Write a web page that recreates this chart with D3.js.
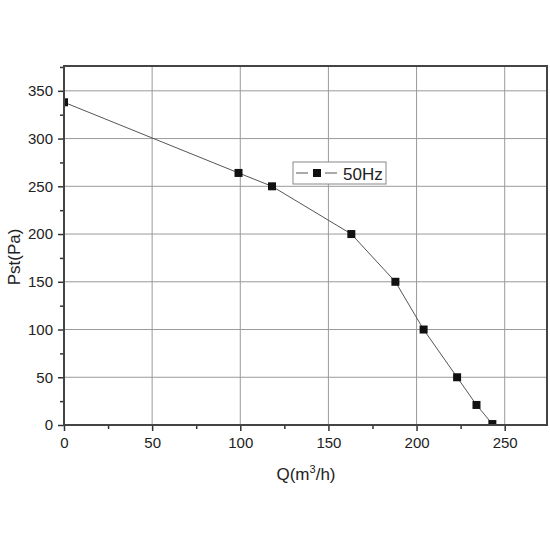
<!DOCTYPE html>
<html>
<head>
<meta charset="utf-8">
<script src="https://cdn.jsdelivr.net/npm/d3@7"></script>
<style>
  body { margin: 0; background: #fff; }
  svg { font-family: "Liberation Sans", Arial, sans-serif; }
</style>
</head>
<body>
<svg width="550" height="550"></svg>
<script>
// flow rate Q (m3/h) and static pressure Pst (Pa)
const flow = [0, 99, 118, 163, 188, 204, 223, 234, 243];
const pressure = [338, 264, 250, 200, 150, 100, 50, 21, 1];
const xTicks = [0, 50, 100, 150, 200, 250];
const yTicks = [0, 50, 100, 150, 200, 250, 300, 350];
const seriesName = '50Hz';

const svg = d3.select('svg');
const margin = { left: 64, top: 66, right: 3, bottom: 125 };
const w = 550 - margin.left - margin.right;
const h = 550 - margin.top - margin.bottom;

const x = d3.scaleLinear().domain([0, 274]).range([0, w]);
const y = d3.scaleLinear().domain([0, 376]).range([h, 0]);

svg.append('defs').append('clipPath').attr('id', 'plot')
  .append('rect').attr('width', w).attr('height', h);

const g = svg.append('g').attr('transform', `translate(${margin.left},${margin.top})`);

// grid lines
g.selectAll('.vgrid').data(xTicks.filter(d => d > 0)).enter().append('line')
  .attr('x1', d => x(d)).attr('x2', d => x(d)).attr('y1', 0).attr('y2', h)
  .attr('stroke', '#9a9a9a').attr('stroke-width', 1);
g.selectAll('.hgrid').data(yTicks.filter(d => d > 0)).enter().append('line')
  .attr('y1', d => y(d)).attr('y2', d => y(d)).attr('x1', 0).attr('x2', w)
  .attr('stroke', '#9a9a9a').attr('stroke-width', 1);

// axes - major ticks with labels, minor ticks every 25
const xAxis = g.append('g').attr('transform', `translate(0,${h})`)
  .call(d3.axisBottom(x).tickValues(xTicks).tickSize(6).tickPadding(6).tickFormat(d3.format('d')));
const xMinor = g.append('g').attr('transform', `translate(0,${h})`)
  .call(d3.axisBottom(x).tickValues([25, 75, 125, 175, 225]).tickSize(4).tickFormat(''));
const yAxis = g.append('g')
  .call(d3.axisLeft(y).tickValues(yTicks).tickSize(6).tickPadding(5).tickFormat(d3.format('d')));
const yMinor = g.append('g')
  .call(d3.axisLeft(y).tickValues([25, 75, 125, 175, 225, 275, 325, 375]).tickSize(4).tickFormat(''));

[xAxis, xMinor, yAxis, yMinor].forEach(a => {
  a.select('.domain').remove();
  a.selectAll('line').attr('stroke', '#333').attr('stroke-width', 1.5);
  a.selectAll('text').attr('fill', '#222').style('font-size', '15px');
});

// curve + markers, clipped to the frame like the original
const pts = flow.map((q, i) => [q, pressure[i]]);
const plot = g.append('g').attr('clip-path', 'url(#plot)');
plot.append('path').datum(pts)
  .attr('d', d3.line().x(d => x(d[0])).y(d => y(d[1])))
  .attr('fill', 'none').attr('stroke', '#555').attr('stroke-width', 1);
plot.selectAll('.pt').data(pts).enter().append('rect')
  .attr('x', d => x(d[0]) - 4).attr('y', d => y(d[1]) - 4)
  .attr('width', 8).attr('height', 8).attr('fill', '#111');

// frame
g.append('rect').attr('x', 0).attr('y', 0).attr('width', w).attr('height', h)
  .attr('fill', 'none').attr('stroke', '#444').attr('stroke-width', 2);

// legend
const lg = svg.append('g').attr('transform', 'translate(293,162)');
lg.append('rect').attr('width', 93).attr('height', 22)
  .attr('fill', '#fff').attr('stroke', '#888').attr('stroke-width', 1);
lg.append('line').attr('x1', 3).attr('x2', 15).attr('y1', 11).attr('y2', 11)
  .attr('stroke', '#555').attr('stroke-width', 1);
lg.append('line').attr('x1', 32).attr('x2', 44).attr('y1', 11).attr('y2', 11)
  .attr('stroke', '#555').attr('stroke-width', 1);
lg.append('rect').attr('x', 20).attr('y', 7).attr('width', 8).attr('height', 8).attr('fill', '#111');
lg.append('text').attr('x', 50).attr('y', 18).text(seriesName)
  .style('font-size', '17px').attr('fill', '#222');

// axis titles
const xt = svg.append('text').attr('x', 306).attr('y', 480).attr('text-anchor', 'middle')
  .style('font-size', '17px').attr('fill', '#222');
xt.append('tspan').text('Q(m');
xt.append('tspan').text('3').attr('dy', -7).style('font-size', '11px');
xt.append('tspan').text('/h)').attr('dy', 7);

svg.append('text').attr('transform', 'translate(20,257) rotate(-90)')
  .attr('text-anchor', 'middle').style('font-size', '17px').attr('fill', '#222')
  .text('Pst(Pa)');
</script>
</body>
</html>
